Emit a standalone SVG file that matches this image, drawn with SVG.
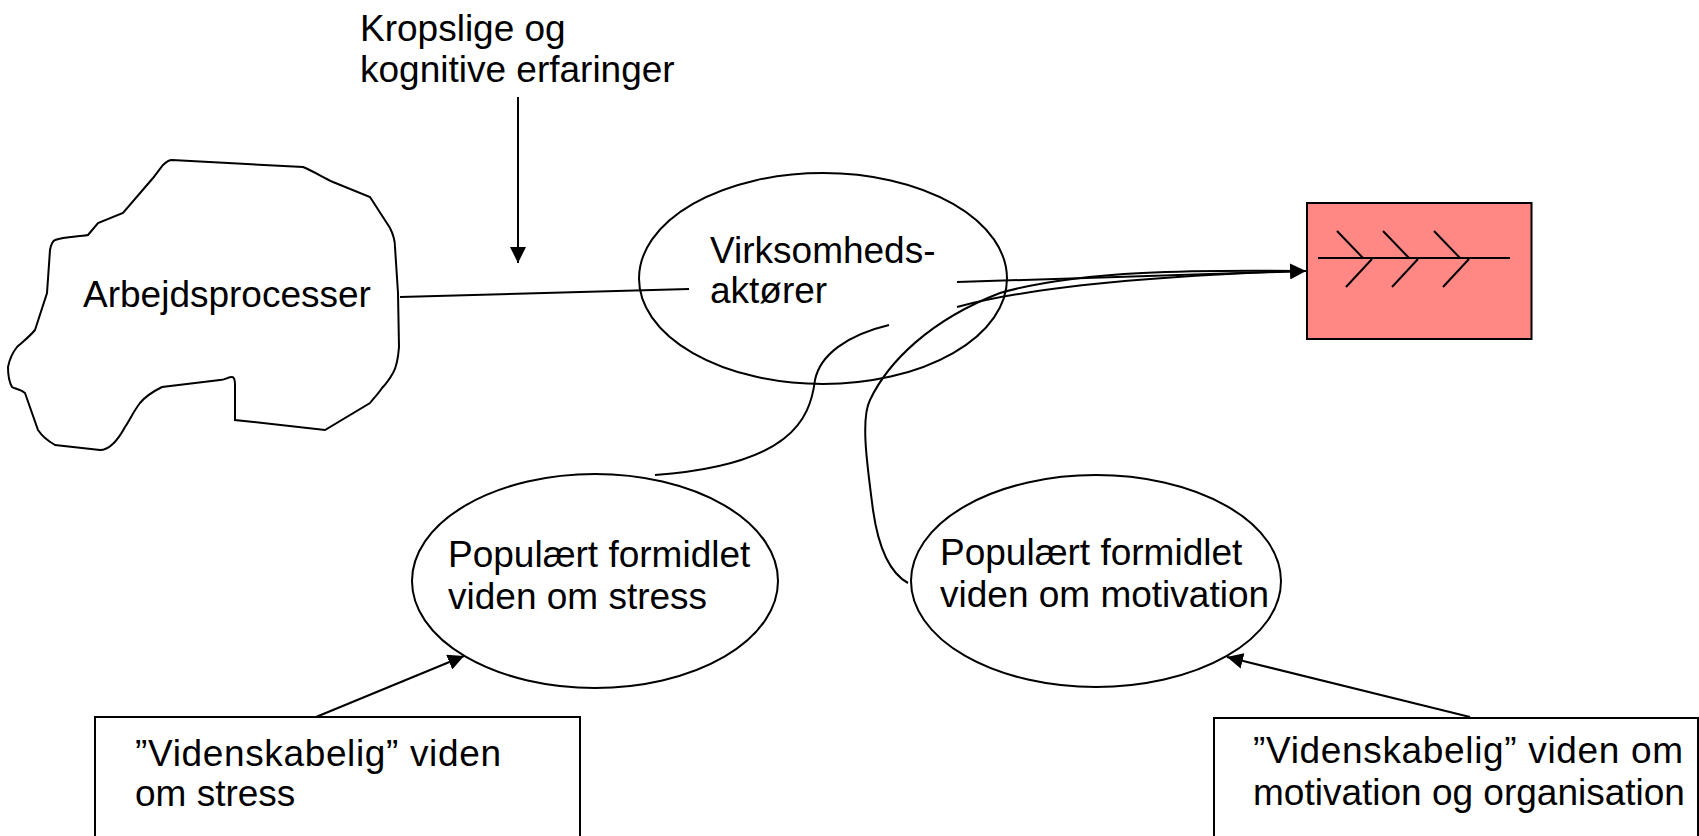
<svg xmlns="http://www.w3.org/2000/svg" width="1699" height="836" viewBox="0 0 1699 836">
<style>
text{font-family:"Liberation Sans",Arial,sans-serif;font-size:37px;fill:#000}
.s{fill:#fff;stroke:#000;stroke-width:2}
.c{fill:none;stroke:#000;stroke-width:2}
</style>
<defs>
<marker id="ah" markerUnits="userSpaceOnUse" markerWidth="16" markerHeight="16" viewBox="0 0 16 16" refX="16" refY="8" orient="auto">
<path d="M0,0 L16,8 L0,16 Z" fill="#000"/>
</marker>
</defs>
<g id="kropslige">
<text x="360" y="41">Kropslige og</text>
<text x="360" y="82">kognitive erfaringer</text>
</g>
<g id="arbejdsprocesser">
<path class="s" d="M172,160 L303,167 C315,172 322,177 333,182 L370,197 L390,228 C394,236 395,240 395,247 L398,293 L399,347 C398,360 396,368 393,373 C389,380 386,384 382,388 C378,394 374,398 370,403 L325,430 L235,420 L235,385 C235,380 234,377 232,377 C228,377 225,380 220,380 L162,387 C152,392 145,397 140,403 C133,412 130,420 125,427 C118,440 110,450 100,450 L55,445 C48,441 42,436 38,430 L25,393 C20,389 15,389 12,387 C8,380 8,373 8,367 C10,357 13,352 17,347 C25,340 30,336 35,330 L47,293 L50,250 C51,245 52,241 55,240 C65,236 78,237 88,235 L98,223 L123,213 L153,178 L163,165 C166,162 168,160 172,160 Z"/>
<text x="83" y="307">Arbejdsprocesser</text>
</g>
<g id="virksomhedsaktorer">
<ellipse class="s" cx="823" cy="278.5" rx="184" ry="105.5" stroke-width="1.8"/>
<text x="710" y="263">Virksomheds-</text>
<text x="710" y="303">aktører</text>
</g>
<g id="fishbone">
<rect x="1307" y="203" width="224.5" height="136" fill="#FF8884" stroke="#000" stroke-width="2"/>
<path class="c" d="M1318,258 L1510,258 M1337,231 L1363,258 M1383,231 L1409,258 M1434,231 L1460,258 M1372,259 L1346,287 M1418,259 L1392,287 M1469,259 L1443,287"/>
</g>
<g id="stress-popular">
<ellipse class="s" cx="595" cy="581" rx="183" ry="107" stroke-width="1.8"/>
<text x="448" y="567">Populært formidlet</text>
<text x="448" y="609">viden om stress</text>
</g>
<g id="motivation-popular">
<ellipse class="s" cx="1096" cy="581" rx="185" ry="106" stroke-width="1.8"/>
<text x="940" y="565">Populært formidlet</text>
<text x="940" y="607">viden om motivation</text>
</g>
<g id="stress-science">
<rect class="s" x="95" y="717" width="485" height="140"/>
<text x="135" y="766" textLength="366" lengthAdjust="spacing">”Videnskabelig” viden</text>
<text x="135" y="806">om stress</text>
</g>
<g id="motivation-science">
<rect class="s" x="1214" y="718" width="484" height="140"/>
<text x="1253" y="763" textLength="430" lengthAdjust="spacing">”Videnskabelig” viden om</text>
<text x="1253" y="805">motivation og organisation</text>
</g>
<g id="connectors">
<path class="c" d="M518,97 L518,263" marker-end="url(#ah)"/>
<path class="c" d="M400,297 L689,289"/>
<path class="c" d="M957,282 L1306,271" marker-end="url(#ah)"/>
<path class="c" d="M957,307 Q1060,279 1300,271"/>
<path class="c" d="M908,583 C888,572 878,545 873,510 C868,470 860,420 870,400 C888,362 930,320 1000,293 C1080,270 1200,270 1300,271"/>
<path class="c" d="M889,325 C847,335 820,355 815,380 C810,420 790,465 655,475"/>
<path class="c" d="M316,717 L464,656" marker-end="url(#ah)"/>
<path class="c" d="M1470,717 L1227,657" marker-end="url(#ah)"/>
</g>
</svg>
